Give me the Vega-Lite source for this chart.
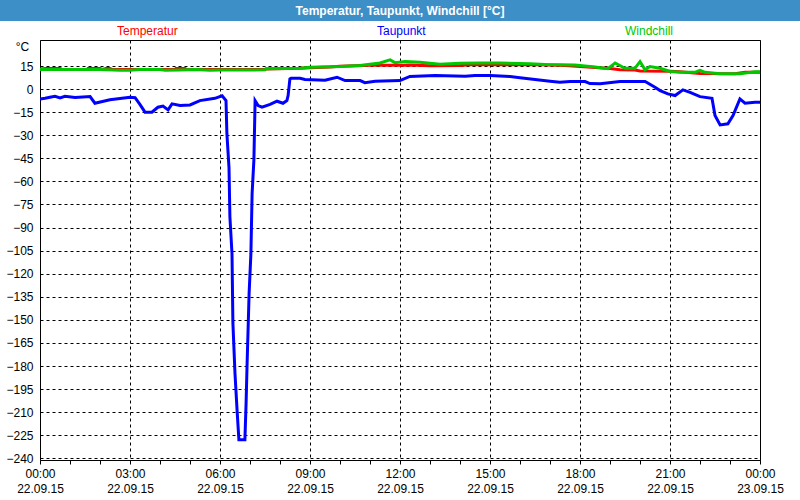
{
  "$schema": "https://vega.github.io/schema/vega-lite/v6.json",
  "padding": 0,
  "background": "#ffffff",
  "spacing": 19,
  "bounds": "flush",
  "center": true,
  "config": {"font": "Liberation Sans", "view": {"stroke": null}},
  "vconcat": [
    {
      "width": 800,
      "height": 21,
      "view": {"fill": "#3d8fc7", "stroke": null},
      "data": {"values": [{"title": "Temperatur, Taupunkt, Windchill [°C]"}]},
      "mark": {"type": "text", "color": "white", "fontWeight": "bold", "fontSize": 12, "baseline": "middle", "align": "center"},
      "encoding": {"text": {"field": "title"}}
    },
    {
      "width": 720,
      "height": 420,
      "view": {"stroke": "black", "strokeWidth": 1},
      "data": {"values": [
        {"series": "Temperatur", "hour": 0, "value": 13.0},
        {"series": "Temperatur", "hour": 0.2, "value": 13.3},
        {"series": "Temperatur", "hour": 0.67, "value": 13.3},
        {"series": "Temperatur", "hour": 0.73, "value": 12.8},
        {"series": "Temperatur", "hour": 1.57, "value": 12.8},
        {"series": "Temperatur", "hour": 1.6, "value": 13.4},
        {"series": "Temperatur", "hour": 2.0, "value": 13.4},
        {"series": "Temperatur", "hour": 2.07, "value": 12.8},
        {"series": "Temperatur", "hour": 2.2, "value": 13.3},
        {"series": "Temperatur", "hour": 2.33, "value": 13.3},
        {"series": "Temperatur", "hour": 2.4, "value": 12.8},
        {"series": "Temperatur", "hour": 4.5, "value": 12.8},
        {"series": "Temperatur", "hour": 4.53, "value": 13.3},
        {"series": "Temperatur", "hour": 4.83, "value": 13.3},
        {"series": "Temperatur", "hour": 4.87, "value": 12.8},
        {"series": "Temperatur", "hour": 7.5, "value": 12.8},
        {"series": "Temperatur", "hour": 7.53, "value": 13.1},
        {"series": "Temperatur", "hour": 8.67, "value": 13.5},
        {"series": "Temperatur", "hour": 9.0, "value": 13.8},
        {"series": "Temperatur", "hour": 9.67, "value": 14.3},
        {"series": "Temperatur", "hour": 10.0, "value": 14.8},
        {"series": "Temperatur", "hour": 11.0, "value": 15.5},
        {"series": "Temperatur", "hour": 12.0, "value": 15.5},
        {"series": "Temperatur", "hour": 12.33, "value": 15.7},
        {"series": "Temperatur", "hour": 13.0, "value": 15.2},
        {"series": "Temperatur", "hour": 14.0, "value": 15.4},
        {"series": "Temperatur", "hour": 14.33, "value": 15.8},
        {"series": "Temperatur", "hour": 16.67, "value": 15.8},
        {"series": "Temperatur", "hour": 17.5, "value": 15.4},
        {"series": "Temperatur", "hour": 18.0, "value": 14.6},
        {"series": "Temperatur", "hour": 18.5, "value": 14.0},
        {"series": "Temperatur", "hour": 19.0, "value": 13.3},
        {"series": "Temperatur", "hour": 19.33, "value": 12.5},
        {"series": "Temperatur", "hour": 19.83, "value": 12.4},
        {"series": "Temperatur", "hour": 20.0, "value": 11.8},
        {"series": "Temperatur", "hour": 21.0, "value": 11.6},
        {"series": "Temperatur", "hour": 21.33, "value": 11.2},
        {"series": "Temperatur", "hour": 22.0, "value": 10.2},
        {"series": "Temperatur", "hour": 23.17, "value": 9.9},
        {"series": "Temperatur", "hour": 23.5, "value": 10.9},
        {"series": "Temperatur", "hour": 24, "value": 11.0},

        {"series": "Taupunkt", "hour": 0, "value": -6.4},
        {"series": "Taupunkt", "hour": 0.17, "value": -6.0},
        {"series": "Taupunkt", "hour": 0.33, "value": -5.3},
        {"series": "Taupunkt", "hour": 0.5, "value": -4.7},
        {"series": "Taupunkt", "hour": 0.67, "value": -5.7},
        {"series": "Taupunkt", "hour": 0.83, "value": -4.7},
        {"series": "Taupunkt", "hour": 1.17, "value": -5.5},
        {"series": "Taupunkt", "hour": 1.67, "value": -4.9},
        {"series": "Taupunkt", "hour": 1.83, "value": -9.2},
        {"series": "Taupunkt", "hour": 2.33, "value": -7.0},
        {"series": "Taupunkt", "hour": 3.0, "value": -5.3},
        {"series": "Taupunkt", "hour": 3.17, "value": -5.6},
        {"series": "Taupunkt", "hour": 3.33, "value": -10.0},
        {"series": "Taupunkt", "hour": 3.5, "value": -15.0},
        {"series": "Taupunkt", "hour": 3.73, "value": -15.0},
        {"series": "Taupunkt", "hour": 3.93, "value": -11.8},
        {"series": "Taupunkt", "hour": 4.1, "value": -11.0},
        {"series": "Taupunkt", "hour": 4.27, "value": -13.5},
        {"series": "Taupunkt", "hour": 4.4, "value": -9.6},
        {"series": "Taupunkt", "hour": 4.67, "value": -10.7},
        {"series": "Taupunkt", "hour": 5.0, "value": -10.3},
        {"series": "Taupunkt", "hour": 5.33, "value": -7.5},
        {"series": "Taupunkt", "hour": 5.83, "value": -6.0},
        {"series": "Taupunkt", "hour": 6.07, "value": -4.4},
        {"series": "Taupunkt", "hour": 6.2, "value": -7.5},
        {"series": "Taupunkt", "hour": 6.23, "value": -29},
        {"series": "Taupunkt", "hour": 6.3, "value": -51},
        {"series": "Taupunkt", "hour": 6.33, "value": -83},
        {"series": "Taupunkt", "hour": 6.4, "value": -107},
        {"series": "Taupunkt", "hour": 6.43, "value": -152},
        {"series": "Taupunkt", "hour": 6.5, "value": -185},
        {"series": "Taupunkt", "hour": 6.57, "value": -209},
        {"series": "Taupunkt", "hour": 6.63, "value": -228},
        {"series": "Taupunkt", "hour": 6.83, "value": -228},
        {"series": "Taupunkt", "hour": 6.87, "value": -204},
        {"series": "Taupunkt", "hour": 6.9, "value": -181},
        {"series": "Taupunkt", "hour": 6.97, "value": -133},
        {"series": "Taupunkt", "hour": 7.03, "value": -107},
        {"series": "Taupunkt", "hour": 7.07, "value": -68},
        {"series": "Taupunkt", "hour": 7.13, "value": -46},
        {"series": "Taupunkt", "hour": 7.17, "value": -7.5},
        {"series": "Taupunkt", "hour": 7.27, "value": -10.7},
        {"series": "Taupunkt", "hour": 7.4, "value": -11.8},
        {"series": "Taupunkt", "hour": 7.67, "value": -10.0},
        {"series": "Taupunkt", "hour": 7.9, "value": -7.9},
        {"series": "Taupunkt", "hour": 8.1, "value": -9.2},
        {"series": "Taupunkt", "hour": 8.23, "value": -7.5},
        {"series": "Taupunkt", "hour": 8.27, "value": -4.2},
        {"series": "Taupunkt", "hour": 8.33, "value": 6.6},
        {"series": "Taupunkt", "hour": 8.37, "value": 7.0},
        {"series": "Taupunkt", "hour": 8.67, "value": 7.0},
        {"series": "Taupunkt", "hour": 8.83, "value": 6.2},
        {"series": "Taupunkt", "hour": 9.5, "value": 5.8},
        {"series": "Taupunkt", "hour": 9.9, "value": 7.7},
        {"series": "Taupunkt", "hour": 10.17, "value": 5.5},
        {"series": "Taupunkt", "hour": 10.67, "value": 5.5},
        {"series": "Taupunkt", "hour": 10.83, "value": 4.2},
        {"series": "Taupunkt", "hour": 11.17, "value": 5.1},
        {"series": "Taupunkt", "hour": 12.0, "value": 5.5},
        {"series": "Taupunkt", "hour": 12.33, "value": 8.2},
        {"series": "Taupunkt", "hour": 13.17, "value": 8.8},
        {"series": "Taupunkt", "hour": 14.17, "value": 8.3},
        {"series": "Taupunkt", "hour": 14.5, "value": 8.8},
        {"series": "Taupunkt", "hour": 15.0, "value": 8.8},
        {"series": "Taupunkt", "hour": 15.67, "value": 8.1},
        {"series": "Taupunkt", "hour": 16.0, "value": 7.3},
        {"series": "Taupunkt", "hour": 16.5, "value": 6.2},
        {"series": "Taupunkt", "hour": 17.0, "value": 5.1},
        {"series": "Taupunkt", "hour": 17.33, "value": 4.4},
        {"series": "Taupunkt", "hour": 17.67, "value": 5.0},
        {"series": "Taupunkt", "hour": 18.17, "value": 4.9},
        {"series": "Taupunkt", "hour": 18.33, "value": 3.6},
        {"series": "Taupunkt", "hour": 18.67, "value": 3.4},
        {"series": "Taupunkt", "hour": 19.33, "value": 4.9},
        {"series": "Taupunkt", "hour": 20.17, "value": 4.9},
        {"series": "Taupunkt", "hour": 20.5, "value": 1.2},
        {"series": "Taupunkt", "hour": 20.67, "value": -1.0},
        {"series": "Taupunkt", "hour": 20.93, "value": -3.1},
        {"series": "Taupunkt", "hour": 21.17, "value": -4.2},
        {"series": "Taupunkt", "hour": 21.43, "value": -0.5},
        {"series": "Taupunkt", "hour": 21.67, "value": -2.1},
        {"series": "Taupunkt", "hour": 22.0, "value": -4.9},
        {"series": "Taupunkt", "hour": 22.4, "value": -6.0},
        {"series": "Taupunkt", "hour": 22.5, "value": -17.2},
        {"series": "Taupunkt", "hour": 22.67, "value": -23.3},
        {"series": "Taupunkt", "hour": 22.93, "value": -22.6},
        {"series": "Taupunkt", "hour": 23.1, "value": -17.2},
        {"series": "Taupunkt", "hour": 23.33, "value": -6.4},
        {"series": "Taupunkt", "hour": 23.5, "value": -9.2},
        {"series": "Taupunkt", "hour": 23.83, "value": -8.6},
        {"series": "Taupunkt", "hour": 24, "value": -8.5},

        {"series": "Windchill", "hour": 0, "value": 12.8},
        {"series": "Windchill", "hour": 1.0, "value": 12.7},
        {"series": "Windchill", "hour": 2.0, "value": 12.7},
        {"series": "Windchill", "hour": 2.67, "value": 12.3},
        {"series": "Windchill", "hour": 3.0, "value": 12.3},
        {"series": "Windchill", "hour": 3.33, "value": 12.7},
        {"series": "Windchill", "hour": 4.0, "value": 12.7},
        {"series": "Windchill", "hour": 4.17, "value": 12.2},
        {"series": "Windchill", "hour": 4.67, "value": 12.4},
        {"series": "Windchill", "hour": 5.17, "value": 12.7},
        {"series": "Windchill", "hour": 5.67, "value": 12.2},
        {"series": "Windchill", "hour": 6.0, "value": 12.4},
        {"series": "Windchill", "hour": 7.0, "value": 12.4},
        {"series": "Windchill", "hour": 7.5, "value": 12.5},
        {"series": "Windchill", "hour": 7.53, "value": 13.2},
        {"series": "Windchill", "hour": 8.67, "value": 13.5},
        {"series": "Windchill", "hour": 9.0, "value": 14.2},
        {"series": "Windchill", "hour": 10.0, "value": 14.6},
        {"series": "Windchill", "hour": 10.67, "value": 15.3},
        {"series": "Windchill", "hour": 11.33, "value": 17.0},
        {"series": "Windchill", "hour": 11.67, "value": 19.0},
        {"series": "Windchill", "hour": 11.83, "value": 17.2},
        {"series": "Windchill", "hour": 12.17, "value": 18.0},
        {"series": "Windchill", "hour": 12.67, "value": 17.4},
        {"series": "Windchill", "hour": 13.33, "value": 16.1},
        {"series": "Windchill", "hour": 14.0, "value": 16.8},
        {"series": "Windchill", "hour": 14.67, "value": 17.0},
        {"series": "Windchill", "hour": 15.33, "value": 17.0},
        {"series": "Windchill", "hour": 16.33, "value": 16.4},
        {"series": "Windchill", "hour": 16.83, "value": 15.9},
        {"series": "Windchill", "hour": 17.83, "value": 15.7},
        {"series": "Windchill", "hour": 18.5, "value": 14.4},
        {"series": "Windchill", "hour": 18.93, "value": 13.2},
        {"series": "Windchill", "hour": 19.17, "value": 17.0},
        {"series": "Windchill", "hour": 19.5, "value": 13.5},
        {"series": "Windchill", "hour": 19.83, "value": 13.5},
        {"series": "Windchill", "hour": 20.0, "value": 17.9},
        {"series": "Windchill", "hour": 20.17, "value": 12.5},
        {"series": "Windchill", "hour": 20.33, "value": 14.6},
        {"series": "Windchill", "hour": 20.67, "value": 13.5},
        {"series": "Windchill", "hour": 21.0, "value": 11.4},
        {"series": "Windchill", "hour": 21.33, "value": 10.9},
        {"series": "Windchill", "hour": 21.83, "value": 10.9},
        {"series": "Windchill", "hour": 22.0, "value": 12.2},
        {"series": "Windchill", "hour": 22.17, "value": 10.9},
        {"series": "Windchill", "hour": 22.67, "value": 9.9},
        {"series": "Windchill", "hour": 23.33, "value": 9.9},
        {"series": "Windchill", "hour": 23.83, "value": 11.2},
        {"series": "Windchill", "hour": 24, "value": 11.2}
      ]},
      "mark": {"type": "line", "strokeWidth": 3, "clip": true},
      "encoding": {
        "x": {
          "field": "hour",
          "type": "quantitative",
          "scale": {"domain": [0, 24], "nice": false, "zero": false},
          "axis": {
            "title": null,
            "values": [0, 1, 2, 3, 4, 5, 6, 7, 8, 9, 10, 11, 12, 13, 14, 15, 16, 17, 18, 19, 20, 21, 22, 23, 24],
            "labelExpr": "datum.value % 3 == 0 ? [(datum.value % 24 < 10 ? '0' : '') + (datum.value % 24) + ':00', datum.value < 24 ? '22.09.15' : '23.09.15'] : ''",
            "labelFlush": false,
            "labelOverlap": false,
            "grid": true,
            "gridColor": "black",
            "gridDash": [3, 3],
            "gridOpacity": {"condition": {"test": "datum.value % 3 == 0", "value": 1}, "value": 0},
            "tickColor": "black",
            "tickSize": 4,
            "tickWidth": 1,
            "domainColor": "black",
            "labelColor": "black",
            "labelFontSize": 12,
            "labelPadding": 4,
            "labelLineHeight": 15
          }
        },
        "y": {
          "field": "value",
          "type": "quantitative",
          "scale": {"domain": [-241.1, 31.9], "nice": false, "zero": false},
          "axis": {
            "title": "°C",
            "titleAngle": 0,
            "titleX": -18,
            "titleY": 6,
            "titleAlign": "center",
            "titleBaseline": "middle",
            "titleFontWeight": "normal",
            "titleFontSize": 12,
            "titleColor": "black",
            "values": [-240, -225, -210, -195, -180, -165, -150, -135, -120, -105, -90, -75, -60, -45, -30, -15, 0, 15],
            "ticks": false,
            "domain": false,
            "labelPadding": 7,
            "grid": true,
            "gridColor": "black",
            "gridDash": [3, 3],
            "labelColor": "black",
            "labelFontSize": 12
          }
        },
        "color": {
          "field": "series",
          "type": "nominal",
          "scale": {"domain": ["Temperatur", "Taupunkt", "Windchill"], "range": ["#ff0000", "#0000ff", "#00c800"]},
          "legend": {
            "title": null,
            "orient": "none",
            "legendX": 105,
            "legendY": 25,
            "direction": "horizontal",
            "symbolSize": 0,
            "symbolOpacity": 0,
            "symbolStrokeWidth": 0,
            "labelOffset": 0,
            "columnPadding": 187,
            "labelFontSize": 12,
            "encode": {"labels": {"update": {"fill": {"signal": "datum.value == 'Temperatur' ? '#ff0000' : datum.value == 'Taupunkt' ? '#0000ff' : '#00c800'"}}}}
          }
        }
      }
    }
  ]
}
